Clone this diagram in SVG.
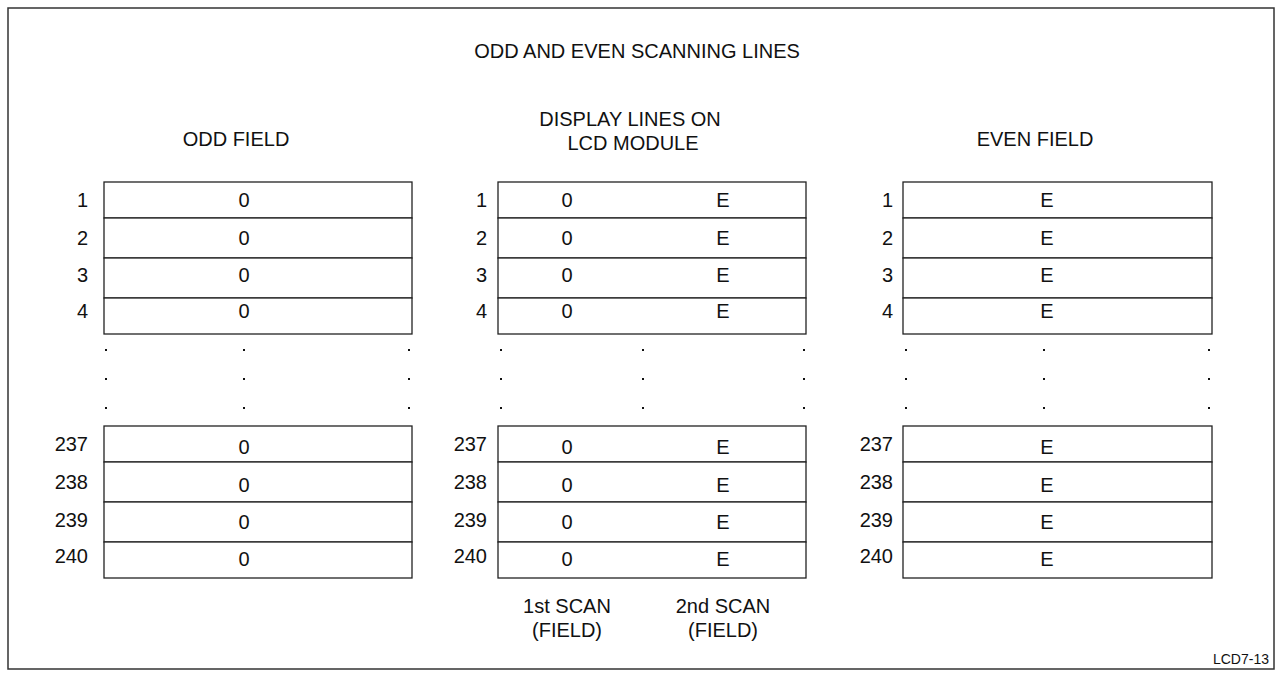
<svg xmlns="http://www.w3.org/2000/svg" width="1277" height="673" viewBox="0 0 1277 673">
<style>
text{font-family:"Liberation Sans",Arial,sans-serif;font-size:20px;fill:#111}
.c{text-anchor:middle}
.n{text-anchor:end}
.cell{fill:#fff;stroke:#222;stroke-width:1.3}
.dot{fill:#111}
.small{font-size:14px}
</style>
<rect x="8" y="8" width="1266" height="661" fill="#fff" stroke="#333" stroke-width="1.5"/>
<text class="c" x="637" y="58">ODD AND EVEN SCANNING LINES</text>
<text class="c" x="236" y="146">ODD FIELD</text>
<text class="c" x="630" y="126">DISPLAY LINES ON</text>
<text class="c" x="633" y="150">LCD MODULE</text>
<text class="c" x="1035" y="146">EVEN FIELD</text>

<g id="odd-field">
<rect class="cell" x="104" y="182" width="308" height="36"/>
<rect class="cell" x="104" y="218" width="308" height="40"/>
<rect class="cell" x="104" y="258" width="308" height="40"/>
<rect class="cell" x="104" y="298" width="308" height="36"/>
<rect class="cell" x="104" y="426" width="308" height="36"/>
<rect class="cell" x="104" y="462" width="308" height="40"/>
<rect class="cell" x="104" y="502" width="308" height="40"/>
<rect class="cell" x="104" y="542" width="308" height="36"/>
<text class="n" x="88" y="207">1</text><text class="c" x="244" y="207">0</text>
<text class="n" x="88" y="245">2</text><text class="c" x="244" y="245">0</text>
<text class="n" x="88" y="282">3</text><text class="c" x="244" y="282">0</text>
<text class="n" x="88" y="318">4</text><text class="c" x="244" y="318">0</text>
<text class="n" x="88" y="451">237</text><text class="c" x="244" y="454">0</text>
<text class="n" x="88" y="489">238</text><text class="c" x="244" y="492">0</text>
<text class="n" x="88" y="527">239</text><text class="c" x="244" y="529">0</text>
<text class="n" x="88" y="563">240</text><text class="c" x="244" y="566">0</text>
<rect class="dot" x="105" y="349" width="2" height="2"/><rect class="dot" x="243" y="349" width="2" height="2"/><rect class="dot" x="408" y="349" width="2" height="2"/>
<rect class="dot" x="105" y="378" width="2" height="2"/><rect class="dot" x="243" y="378" width="2" height="2"/><rect class="dot" x="408" y="378" width="2" height="2"/>
<rect class="dot" x="105" y="407" width="2" height="2"/><rect class="dot" x="243" y="407" width="2" height="2"/><rect class="dot" x="408" y="407" width="2" height="2"/>
</g>

<g id="display-lines">
<rect class="cell" x="498" y="182" width="308" height="36"/>
<rect class="cell" x="498" y="218" width="308" height="40"/>
<rect class="cell" x="498" y="258" width="308" height="40"/>
<rect class="cell" x="498" y="298" width="308" height="36"/>
<rect class="cell" x="498" y="426" width="308" height="36"/>
<rect class="cell" x="498" y="462" width="308" height="40"/>
<rect class="cell" x="498" y="502" width="308" height="40"/>
<rect class="cell" x="498" y="542" width="308" height="36"/>
<text class="n" x="487" y="207">1</text><text class="c" x="567" y="207">0</text><text class="c" x="723" y="207">E</text>
<text class="n" x="487" y="245">2</text><text class="c" x="567" y="245">0</text><text class="c" x="723" y="245">E</text>
<text class="n" x="487" y="282">3</text><text class="c" x="567" y="282">0</text><text class="c" x="723" y="282">E</text>
<text class="n" x="487" y="318">4</text><text class="c" x="567" y="318">0</text><text class="c" x="723" y="318">E</text>
<text class="n" x="487" y="451">237</text><text class="c" x="567" y="454">0</text><text class="c" x="723" y="454">E</text>
<text class="n" x="487" y="489">238</text><text class="c" x="567" y="492">0</text><text class="c" x="723" y="492">E</text>
<text class="n" x="487" y="527">239</text><text class="c" x="567" y="529">0</text><text class="c" x="723" y="529">E</text>
<text class="n" x="487" y="563">240</text><text class="c" x="567" y="566">0</text><text class="c" x="723" y="566">E</text>
<rect class="dot" x="500" y="349" width="2" height="2"/><rect class="dot" x="642" y="349" width="2" height="2"/><rect class="dot" x="803" y="349" width="2" height="2"/>
<rect class="dot" x="500" y="378" width="2" height="2"/><rect class="dot" x="642" y="378" width="2" height="2"/><rect class="dot" x="803" y="378" width="2" height="2"/>
<rect class="dot" x="500" y="407" width="2" height="2"/><rect class="dot" x="642" y="407" width="2" height="2"/><rect class="dot" x="803" y="407" width="2" height="2"/>
<text class="c" x="567" y="613">1st SCAN</text>
<text class="c" x="567" y="637">(FIELD)</text>
<text class="c" x="723" y="613">2nd SCAN</text>
<text class="c" x="723" y="637">(FIELD)</text>
</g>

<g id="even-field">
<rect class="cell" x="903" y="182" width="309" height="36"/>
<rect class="cell" x="903" y="218" width="309" height="40"/>
<rect class="cell" x="903" y="258" width="309" height="40"/>
<rect class="cell" x="903" y="298" width="309" height="36"/>
<rect class="cell" x="903" y="426" width="309" height="36"/>
<rect class="cell" x="903" y="462" width="309" height="40"/>
<rect class="cell" x="903" y="502" width="309" height="40"/>
<rect class="cell" x="903" y="542" width="309" height="36"/>
<text class="n" x="893" y="207">1</text><text class="c" x="1047" y="207">E</text>
<text class="n" x="893" y="245">2</text><text class="c" x="1047" y="245">E</text>
<text class="n" x="893" y="282">3</text><text class="c" x="1047" y="282">E</text>
<text class="n" x="893" y="318">4</text><text class="c" x="1047" y="318">E</text>
<text class="n" x="893" y="451">237</text><text class="c" x="1047" y="454">E</text>
<text class="n" x="893" y="489">238</text><text class="c" x="1047" y="492">E</text>
<text class="n" x="893" y="527">239</text><text class="c" x="1047" y="529">E</text>
<text class="n" x="893" y="563">240</text><text class="c" x="1047" y="566">E</text>
<rect class="dot" x="905" y="349" width="2" height="2"/><rect class="dot" x="1043" y="349" width="2" height="2"/><rect class="dot" x="1208" y="349" width="2" height="2"/>
<rect class="dot" x="905" y="378" width="2" height="2"/><rect class="dot" x="1043" y="378" width="2" height="2"/><rect class="dot" x="1208" y="378" width="2" height="2"/>
<rect class="dot" x="905" y="407" width="2" height="2"/><rect class="dot" x="1043" y="407" width="2" height="2"/><rect class="dot" x="1208" y="407" width="2" height="2"/>
</g>

<g id="connectors"></g>
<text class="n small" x="1269" y="664">LCD7-13</text>
</svg>
